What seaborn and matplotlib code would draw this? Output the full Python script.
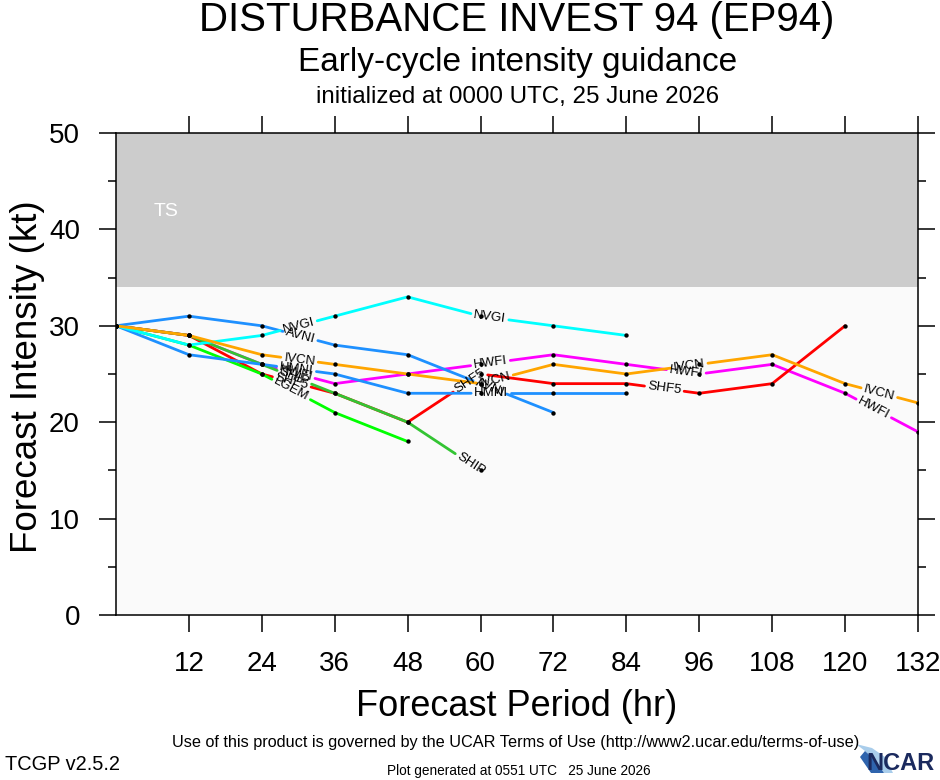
import numpy as np
import pandas as pd
import matplotlib
matplotlib.use("Agg")
import matplotlib.pyplot as plt
import seaborn as sns
from matplotlib.patches import Polygon

# forecast hours and intensity guidance (kt) per model
hours = [0, 12, 24, 36, 48, 60, 72, 84, 96, 108, 120, 132]

models = ["HWFI", "SHF5", "SHIP", "LGEM", "HMNI", "AVNI", "NVGI", "IVCN"]
hwfi = [30, 29, 26, 24, 25, 26, 27, 26, 25, 26, 23, 19]
shf5 = [30, 29, 25, 23, 20, 25, 24, 24, 23, 24, 30]
ship = [30, 29, 26, 23, 20, 15]
lgem = [30, 28, 25, 21, 18]
hmni = [30, 27, 26, 25, 23, 23, 23, 23]
avni = [30, 31, 30, 28, 27, 24, 21]
nvgi = [30, 28, 29, 31, 33, 31, 30, 29]
ivcn = [30, 29, 27, 26, 25, 24, 26, 25, 26, 27, 24, 22]

colors = {"HWFI": "#ff00ff", "SHF5": "#ff0000", "SHIP": "#33c433",
          "LGEM": "#00ff00", "HMNI": "#1e90ff", "AVNI": "#1e90ff",
          "NVGI": "#00ffff", "IVCN": "#ffa500"}

xticks = [12, 24, 36, 48, 60, 72, 84, 96, 108, 120, 132]
yticks = [0, 10, 20, 30, 40, 50]
ts_floor = 34

series = dict(zip(models, [hwfi, shf5, ship, lgem, hmni, avni, nvgi, ivcn]))
rows = []
for name, vals in series.items():
    for h, v in zip(hours, vals):
        rows.append({"model": name, "hour": h, "kt": v})
df = pd.DataFrame(rows)

sns.set_theme(style="ticks")
plt.rcParams["font.family"] = ["Liberation Sans", "DejaVu Sans"]
plt.rcParams["text.color"] = "black"

fig = plt.figure(figsize=(9.4, 7.8), dpi=100)
fig.patch.set_facecolor("white")
ax = fig.add_axes([116 / 940, 165 / 780, 802 / 940, 482 / 780])
ax.set_facecolor("#fafafa")
ax.set_xlim(0, 132)
ax.set_ylim(0, 50)
ax.axhspan(ts_floor, 50, color="#cccccc", lw=0, zorder=0)
ax.text(0.062, 0.838, "TS", transform=ax.transAxes, color="white",
        fontsize=14, ha="center", va="center")

renderer = fig.canvas.get_renderer()
inv = ax.transData.inverted()
first_label, spacing, end_margin = 187.0, 197.5, 8.0
label_size = 9.5

# line labels placed along each track (by path length), with a gap in the line
pieces = []
for name, vals in series.items():
    hrs = hours[:len(vals)]
    pts = ax.transData.transform(np.column_stack([hrs, vals]))
    seg = np.hypot(*np.diff(pts, axis=0).T)
    cum = np.concatenate([[0.0], np.cumsum(seg)])
    total = cum[-1]

    def point_at(s):
        i = int(np.clip(np.searchsorted(cum, s) - 1, 0, len(seg) - 1))
        return pts[i] + (s - cum[i]) / seg[i] * (pts[i + 1] - pts[i]), i

    probe = ax.text(0, 0, name, fontsize=label_size)
    half = probe.get_window_extent(renderer).width / 2 + 3
    probe.remove()

    gaps = []
    s = first_label
    while s + end_margin <= total:
        p, i = point_at(s)
        d = pts[i + 1] - pts[i]
        ang = np.degrees(np.arctan2(d[1], d[0]))
        xd, yd = inv.transform(p)
        ax.text(xd, yd, name, rotation=ang, rotation_mode="anchor",
                ha="center", va="center", fontsize=label_size, zorder=6)
        gaps += [s - half, min(s + half, total)]
        s += spacing

    bounds = [0.0] + gaps + [total]
    for k in range(0, len(bounds), 2):
        u, v = bounds[k], bounds[k + 1]
        if v - u < 0.5:
            continue
        verts = [point_at(u)[0]]
        verts += [pts[j] for j in range(len(pts)) if u < cum[j] < v]
        verts.append(point_at(v)[0])
        for xd, yd in inv.transform(np.array(verts)):
            pieces.append({"model": name, "piece": f"{name}-{k}",
                           "hour": xd, "kt": yd})

lines = pd.DataFrame(pieces)
sns.lineplot(data=lines, x="hour", y="kt", hue="model", hue_order=models,
             units="piece", estimator=None, sort=False, palette=colors,
             linewidth=2.0, legend=False, ax=ax, zorder=3)
sns.scatterplot(data=df, x="hour", y="kt", color="black", s=10,
                linewidth=0, legend=False, ax=ax, zorder=5)

ax.set_xlim(0, 132)
ax.set_ylim(0, 50)
ax.set_xticks(xticks)
ax.set_yticks(yticks)
ax.set_yticks(np.arange(5, 50, 10), minor=True)
ax.tick_params(which="major", direction="out", length=12, width=1.1,
               labelsize=20, pad=14, colors="black")
ax.tick_params(which="minor", direction="out", length=6, width=1.1,
               colors="black")
ax.tick_params(which="both", top=True, right=True)
for sp in ax.spines.values():
    sp.set_linewidth(1.1)
    sp.set_color("black")
ax.set_xlabel("")
ax.set_ylabel("")

fig.text(28 / 940, 1 - 377 / 780, "Forecast Intensity (kt)", rotation=90,
         ha="center", va="center", fontsize=26.5)
fig.text(517 / 940, 1 - 707 / 780, "Forecast Period (hr)",
         ha="center", va="center", fontsize=26)

fig.text(517 / 940, 1 - 20 / 780, "DISTURBANCE INVEST 94 (EP94)",
         ha="center", va="center", fontsize=29)
fig.text(518 / 940, 1 - 62 / 780, "Early-cycle intensity guidance",
         ha="center", va="center", fontsize=24)
fig.text(518 / 940, 1 - 97 / 780, "initialized at 0000 UTC, 25 June 2026",
         ha="center", va="center", fontsize=17.4)

fig.text(516 / 940, 1 - 742 / 780,
         "Use of this product is governed by the UCAR Terms of Use "
         "(http://www2.ucar.edu/terms-of-use)",
         ha="center", va="center", fontsize=11.7)
fig.text(5 / 940, 1 - 765 / 780, "TCGP v2.5.2", ha="left", va="center",
         fontsize=14.4)
fig.text(519 / 940, 1 - 771 / 780, "Plot generated at 0551 UTC   25 June 2026",
         ha="center", va="center", fontsize=9.8)

# rough NCAR logo
def px(x, y):
    return (x / 940, 1 - y / 780)

fig.patches.append(Polygon([px(856, 744), px(872, 748), px(885, 757),
                            px(893, 773), px(884, 773), px(876, 761),
                            px(865, 751)], closed=True, transform=fig.transFigure,
                           facecolor="#a9cdeb", edgecolor="none"))
fig.patches.append(Polygon([px(865, 751), px(876, 761), px(884, 773),
                            px(871, 773), px(860, 757)], closed=True,
                           transform=fig.transFigure, facecolor="#2f64ad",
                           edgecolor="none"))
fig.text(934 / 940, 1 - 764 / 780, "NCAR", ha="right", va="center",
         fontsize=17, fontweight="bold", color="#1b2a5e",
         family=["Liberation Sans Narrow", "Liberation Sans"])

fig.savefig("out.png", dpi=100)
